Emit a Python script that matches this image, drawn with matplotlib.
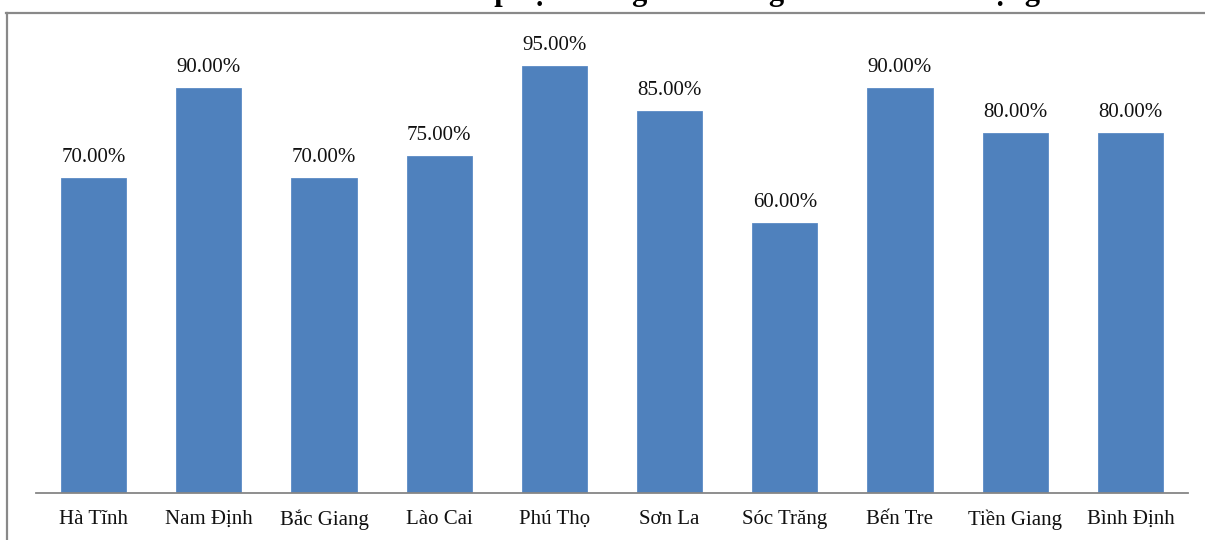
import matplotlib
matplotlib.use("Agg")
import matplotlib.pyplot as plt
from matplotlib.lines import Line2D

provinces = ["Hà Tĩnh", "Nam Định", "Bắc Giang", "Lào Cai", "Phú Thọ",
             "Sơn La", "Sóc Trăng", "Bến Tre", "Tiền Giang", "Bình Định"]
rates = [70.0, 90.0, 70.0, 75.0, 95.0, 85.0, 60.0, 90.0, 80.0, 80.0]
title_text = "Biểu đồ 3.1: Mức tiếp cận thông tin của người dân về lao động"

W, H = 1205, 540
fig = plt.figure(figsize=(W / 100, H / 100), dpi=100)
fig.patch.set_facecolor("white")

serif = ["Liberation Serif", "DejaVu Serif"]

# plot area in pixel units
left, right, top, bottom = 36, 1188, 13, 493
ax = fig.add_axes([left / W, (H - bottom) / H, (right - left) / W, (bottom - top) / H])
ax.set_facecolor("none")

x = list(range(len(provinces)))
ax.bar(x, rates, width=0.565, color="#4F81BD", edgecolor="#5B8BC6", linewidth=0.6)
ax.set_xlim(-0.5, len(provinces) - 0.5)
ax.set_ylim(0, (bottom - top) / 4.5)

for xi, v in zip(x, rates):
    ax.annotate(f"{v:.2f}%", (xi, v), xytext=(0, 11.5), textcoords="offset points",
                ha="center", va="baseline", fontsize=15, family=serif, color="#111111")

ax.set_xticks(x)
ax.set_xticklabels(provinces, fontsize=15, family=serif, color="#111111")
ax.tick_params(axis="x", length=0, pad=12)
ax.set_yticks([])
for s in ("left", "right", "top"):
    ax.spines[s].set_visible(False)
ax.spines["bottom"].set_color("#868686")
ax.spines["bottom"].set_linewidth(1.3)

# outer chart frame
fig.add_artist(Line2D([6 / W, 1.0], [1 - 12.5 / H, 1 - 12.5 / H], transform=fig.transFigure,
                      color="#898989", lw=1.6))
fig.add_artist(Line2D([6.5 / W, 6.5 / W], [0, 1 - 12.5 / H], transform=fig.transFigure,
                      color="#898989", lw=1.6))

# chart title sits above the frame; only its lowest strokes fall inside the canvas
fig.text(1040 / W, 1.0, title_text, ha="right", va="baseline",
         fontsize=22, fontweight="bold", family=serif, color="black")

fig.savefig("out.png", dpi=100)
